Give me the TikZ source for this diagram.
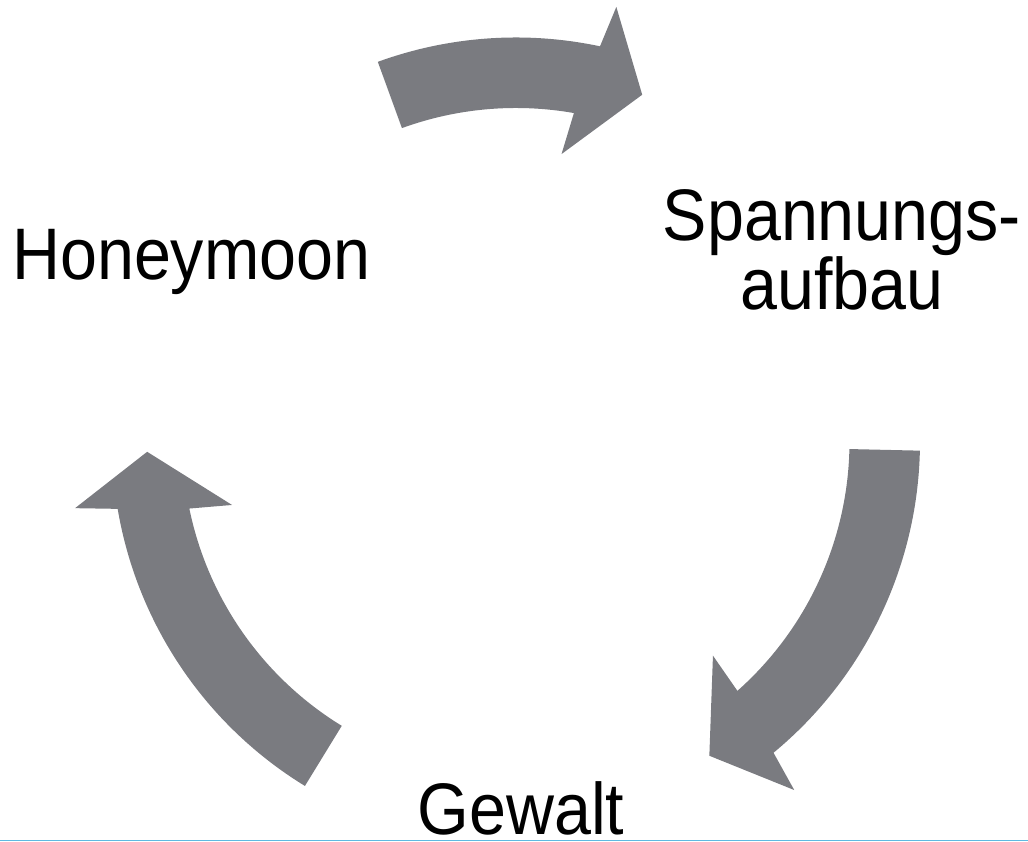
\documentclass[tikz,border=0pt]{standalone}
\usepackage{fontspec}
\setmainfont{Liberation Sans}
\definecolor{arrowgrey}{RGB}{122,123,128}
\definecolor{rulecyan}{RGB}{95,185,225}

\begin{document}
\begin{tikzpicture}[x=1pt,y=1pt,
	phase/.style={font=\fontsize{73}{64}\selectfont, inner sep=0pt, xscale=0.91, align=center}]
	\useasboundingbox (0,0) rectangle (1028,842);
	\coordinate (c) at (516,400.5);
	% the three curved block arrows, clockwise: tail angle / tip angle
	\foreach \tail/\tip in {110/70, -1.3/-58.4, 238.5/181.6}
		\fill[arrowgrey] ([shift={(\tail:404pt)}]c) arc[start angle=\tail, end angle=\tip+8, radius=404pt]
			-- ([shift={(\tip+7:446pt)}]c) -- ([shift={(\tip:369pt)}]c) -- ([shift={(\tip+11:291pt)}]c)
			-- ([shift={(\tip+10:333.5pt)}]c) arc[start angle=\tip+10, end angle=\tail, radius=333.5pt] -- cycle;
	\node[phase, anchor=base west] (honeymoon) at (12,562) {Honeymoon};
	\node[phase, anchor=base] (spannung) at (842,532) {Spannungs-\\aufbau};
	\node[phase, anchor=base] (gewalt) at (521,7) {Gewalt};
	\draw[rulecyan, line width=1.5pt] (0,1.5) -- (1028,1.5);
\end{tikzpicture}
\end{document}
